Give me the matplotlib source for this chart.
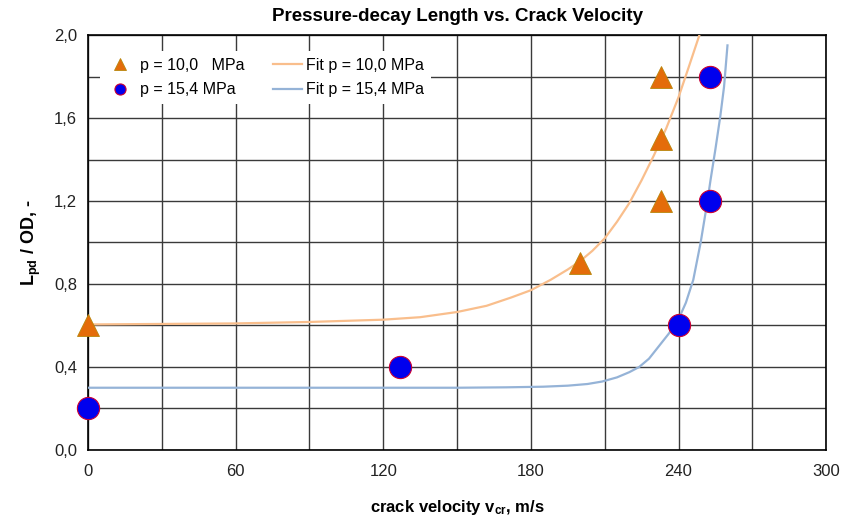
import matplotlib
matplotlib.use("Agg")
import matplotlib.pyplot as plt
import numpy as np

plt.rcParams['font.family'] = ['Liberation Sans', 'DejaVu Sans']
plt.rcParams['mathtext.fontset'] = 'custom'
plt.rcParams['mathtext.rm'] = 'Liberation Sans'
plt.rcParams['mathtext.bf'] = 'Liberation Sans:bold'
plt.rcParams['mathtext.it'] = 'Liberation Sans:italic'

# measured points
v10 = [0, 200, 233, 233, 233]
l10 = [0.6, 0.9, 1.2, 1.5, 1.8]
v15 = [0, 127, 240, 253, 253]
l15 = [0.2, 0.4, 0.6, 1.2, 1.8]

# fit curves
fit10_v = [0, 60, 90, 120, 135, 150, 162, 172, 180, 188, 195, 200, 205, 210, 215, 220,
           225, 230, 235, 240, 244, 248.5]
fit10_l = [0.605, 0.61, 0.617, 0.628, 0.64, 0.665, 0.695, 0.735, 0.77, 0.82, 0.87, 0.91,
           0.96, 1.02, 1.10, 1.19, 1.30, 1.42, 1.55, 1.70, 1.84, 2.0]
fit15_v = [0, 150, 170, 185, 195, 203, 209, 215, 220, 224, 228, 232, 236, 240, 243,
           246, 249, 251.5, 253, 255, 257, 258.5, 259.9]
fit15_l = [0.3, 0.3, 0.302, 0.305, 0.31, 0.318, 0.33, 0.35, 0.375, 0.40, 0.44, 0.50,
           0.56, 0.63, 0.71, 0.82, 1.0, 1.18, 1.3, 1.45, 1.61, 1.75, 1.95]

fig = plt.figure(figsize=(8.43, 5.21), dpi=100)
ax = fig.add_axes([0.1044, 0.1363, 0.8756, 0.7965])

ax.plot(fit10_v, fit10_l, color='#F9BE8C', lw=1.6, label='Fit p = 10,0 MPa', zorder=3)
ax.plot(fit15_v, fit15_l, color='#95B3D7', lw=1.6, label='Fit p = 15,4 MPa', zorder=3)
ax.plot(v10, l10, ls='none', marker='^', ms=16, color='#E46C0A', mec='#B8860B', mew=0.6,
        label='p = 10,0   MPa', zorder=5, clip_on=False)
ax.plot(v15, l15, ls='none', marker='o', ms=16, color='#0000EE', mec='#CC0033', mew=0.8,
        label='p = 15,4 MPa', zorder=5, clip_on=False)

ax.set_xlim(0, 300)
ax.set_ylim(0, 2.0)
ax.set_xticks(np.arange(0, 301, 60))
ax.set_xticks(np.arange(0, 301, 30), minor=True)
ax.set_yticks(np.arange(0, 2.01, 0.4))
ax.set_yticks(np.arange(0, 2.01, 0.2), minor=True)
ax.set_yticklabels([('%.1f' % t).replace('.', ',') for t in np.arange(0, 2.01, 0.4)])
ax.grid(which='both', color='#3a3a3a', lw=1.0, zorder=1)
ax.set_axisbelow(True)
ax.tick_params(which='both', length=0, labelsize=12, pad=10, colors='#222222')
ax.tick_params(axis='y', pad=8)
for s in ax.spines.values():
    s.set_color('black')
    s.set_linewidth(1.2)

ax.set_title('Pressure-decay Length vs. Crack Velocity', fontsize=13.5, fontweight='bold', pad=10)
ax.set_xlabel(r'crack velocity v$_{\mathbf{cr}}$, m/s', fontsize=12, fontweight='bold', labelpad=14)
ax.set_ylabel(r'L$_{\mathbf{pd}}$ / OD, -', fontsize=13, fontweight='bold', labelpad=8)

h, lab = ax.get_legend_handles_labels()
order = [2, 3, 0, 1]
leg = ax.legend([h[i] for i in order], [lab[i] for i in order], ncol=2, loc='upper left',
                bbox_to_anchor=(0.005, 0.98), frameon=True, fontsize=11.5, markerscale=0.5,
                handlelength=1.8, columnspacing=1.8, handletextpad=0.3, borderpad=0.4,
                labelspacing=0.6)
leg.get_frame().set_edgecolor('none')
leg.get_frame().set_facecolor('white')
leg.get_frame().set_alpha(1)

fig.savefig('out.png', dpi=100)
